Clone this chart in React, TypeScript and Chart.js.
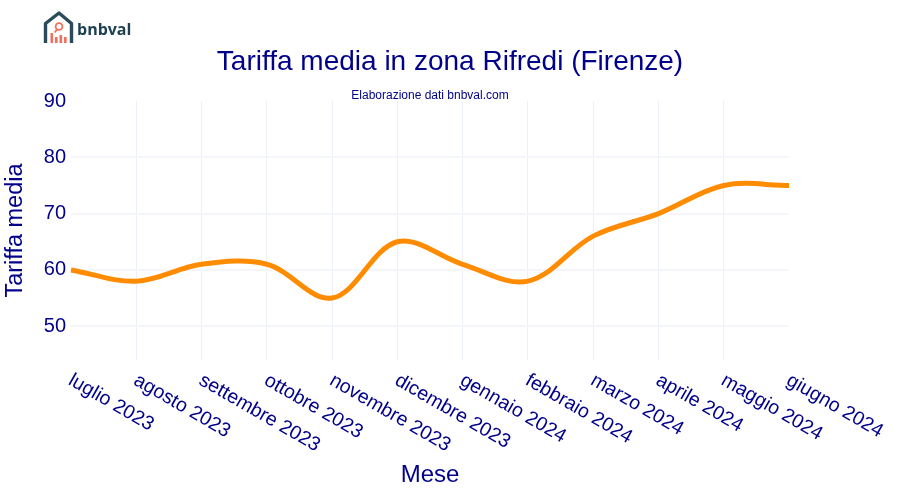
import { useEffect, useRef } from "react"
import { Chart, registerables } from "chart.js"

Chart.register(...registerables)

const months = [
  "luglio 2023",
  "agosto 2023",
  "settembre 2023",
  "ottobre 2023",
  "novembre 2023",
  "dicembre 2023",
  "gennaio 2024",
  "febbraio 2024",
  "marzo 2024",
  "aprile 2024",
  "maggio 2024",
  "giugno 2024",
]
const rates = [60, 58, 61, 61, 55, 65, 61, 58, 66, 70, 75, 75]
const yTicks = [50, 60, 70, 80, 90]

const navy = "#00008b"
const gridColor = "#ebf0f8"
const font = "'Liberation Sans', Arial, sans-serif"

// chart.js only right-aligns rotated labels, these start at the tick and go down
const slantedLabels = {
  id: "slantedLabels",
  afterDraw(chart: Chart) {
    const { ctx, scales } = chart
    ctx.save()
    ctx.fillStyle = navy
    ctx.font = `19.6px ${font}`
    ctx.textAlign = "left"
    ctx.textBaseline = "middle"
    months.forEach((m, i) => {
      ctx.save()
      ctx.translate(scales.x.getPixelForValue(i) - 1, 379)
      ctx.rotate(Math.PI / 6)
      ctx.fillText(m, 0, 0)
      ctx.restore()
    })
    ctx.restore()
  },
}

export default function App() {
  const chartRef = useRef<HTMLCanvasElement>(null)

  useEffect(() => {
    if (!chartRef.current) return
    const chart = new Chart(chartRef.current, {
      type: "line",
      data: {
        labels: months,
        datasets: [
          {
            data: rates,
            borderColor: "#ff8c00",
            borderWidth: 5,
            tension: 0.35,
            pointRadius: 0,
          },
        ],
      },
      options: {
        responsive: false,
        animation: false,
        plugins: {
          legend: { display: false },
          tooltip: { enabled: false },
          title: {
            display: true,
            text: "Tariffa media in zona Rifredi (Firenze)",
            color: navy,
            font: { family: font, size: 28, weight: "normal" },
            padding: { top: 45, bottom: 10 },
          },
          subtitle: {
            display: true,
            text: "Elaborazione dati bnbval.com",
            color: navy,
            fullSize: false,
            font: { family: font, size: 12, weight: "normal" },
            padding: { top: 0, bottom: -2 },
          },
        },
        scales: {
          x: {
            border: { display: false },
            grid: {
              color: (c) => (c.index === 0 || c.index === months.length - 1 ? "transparent" : gridColor),
              lineWidth: 1,
              drawTicks: false,
            },
            ticks: { display: false },
            afterFit: (s) => {
              s.height = 140
            },
            title: {
              display: true,
              text: "Mese",
              color: navy,
              font: { family: font, size: 24, weight: "normal" },
              padding: { top: 0, bottom: 10 },
            },
          },
          y: {
            min: 44,
            max: 90,
            afterBuildTicks: (s) => {
              s.ticks = yTicks.map((value) => ({ value }))
            },
            border: { display: false },
            grid: {
              color: (c) => (c.tick.value === 90 ? "transparent" : "#f4f6fb"),
              lineWidth: 2,
              drawTicks: false,
            },
            ticks: {
              color: navy,
              padding: 5,
              font: { family: font, size: 20 },
            },
            afterFit: (s) => {
              s.width = 71
            },
            title: {
              display: true,
              text: "Tariffa media",
              color: navy,
              font: { family: font, size: 23.5, weight: "normal" },
              padding: { top: 1, bottom: 0 },
            },
          },
          // empty axis, keeps the plot short of the right edge with the title still centred on the page
          spacer: {
            position: "right",
            border: { display: false },
            grid: { display: false },
            ticks: { display: false },
            afterFit: (s) => {
              s.width = 111
            },
          },
        },
      },
      plugins: [slantedLabels],
    })

    return () => chart.destroy()
  }, [])

  return (
    <div style={{ position: "absolute", left: 0, top: 0, width: 900, height: 500 }}>
      <canvas ref={chartRef} width={900} height={500} style={{ display: "block" }} />
      <svg
        width={100}
        height={40}
        viewBox="0 0 100 40"
        style={{ position: "absolute", left: 38, top: 8 }}
      >
        <path
          d="M7.5 35V15.5L21 5L33.5 15.5V35"
          fill="none"
          stroke="#2b4a5a"
          strokeWidth={3.4}
          strokeLinejoin="round"
        />
        <circle cx={21} cy={18.5} r={3.4} fill="none" stroke="#f2705a" strokeWidth={1.8} />
        <path d="M18.8 21.5L16.8 24.5" stroke="#f2705a" strokeWidth={1.8} />
        <path
          d="M12.5 35V25h2.6v10zM17 35V29h2.6v6zM21.5 35V27h2.6v8zM26 35V29h2.6v6z"
          fill="#f2705a"
        />
        <text
          x={39}
          y={27}
          fill="#1d4150"
          style={{ fontFamily: "'Open Sans', sans-serif", fontSize: 16, fontWeight: 700 }}
        >
          bnbval
        </text>
      </svg>
    </div>
  )
}
